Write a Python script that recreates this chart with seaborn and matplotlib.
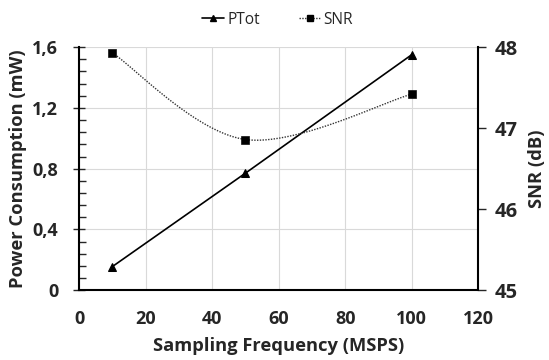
import numpy as np
import pandas as pd
import matplotlib
matplotlib.use("Agg")
import matplotlib.pyplot as plt
import seaborn as sns
from matplotlib.lines import Line2D
from matplotlib.ticker import FuncFormatter, MultipleLocator

# ==========================================================
# DATA
# ==========================================================
freq_msps = [10, 50, 100]
ptot_mw = [0.155, 0.77, 1.55]
snr_db = [47.93, 46.86, 47.42]

x_ticks = [0, 20, 40, 60, 80, 100, 120]
left_ticks = [0, 0.4, 0.8, 1.2, 1.6]
right_ticks = [45, 46, 47, 48]

# ==========================================================
# SMOOTH LINE (Excel-style bezier through the points)
# ==========================================================
def smooth(xs, ys, n=40):
    xs = np.asarray(xs, float)
    ys = np.asarray(ys, float)
    out_x, out_y = [], []
    for i in range(len(xs) - 1):
        p0 = np.array([xs[max(i - 1, 0)], ys[max(i - 1, 0)]])
        p1 = np.array([xs[i], ys[i]])
        p2 = np.array([xs[i + 1], ys[i + 1]])
        p3 = np.array([xs[min(i + 2, len(xs) - 1)], ys[min(i + 2, len(xs) - 1)]])
        c1 = p1 + (p2 - p0) / 6
        c2 = p2 - (p3 - p1) / 6
        t = np.linspace(0, 1, n)[:, None]
        pts = ((1 - t) ** 3) * p1 + 3 * ((1 - t) ** 2) * t * c1 + 3 * (1 - t) * t ** 2 * c2 + t ** 3 * p2
        out_x.extend(pts[:, 0])
        out_y.extend(pts[:, 1])
    return pd.DataFrame({"x": out_x, "y": out_y})

ptot_df = pd.DataFrame({"x": freq_msps, "y": ptot_mw})
snr_df = pd.DataFrame({"x": freq_msps, "y": snr_db})
snr_curve = smooth(freq_msps, snr_db)

# ==========================================================
# PLOT
# ==========================================================
sns.set_style("white")
plt.rcParams["font.family"] = ["Open Sans", "DejaVu Sans"]

fig = plt.figure(figsize=(5.49, 3.6), dpi=100)
ax = fig.add_axes([0.144, 0.194, 0.727, 0.675])
ax2 = ax.twinx()

sns.lineplot(data=ptot_df, x="x", y="y", ax=ax, color="black", lw=1.2,
             marker="^", markersize=6, markeredgecolor="black", zorder=3)

sns.lineplot(data=snr_curve, x="x", y="y", ax=ax2, color="#333333", lw=1.0,
             linestyle=(0, (1, 1)), sort=False, estimator=None)
sns.scatterplot(data=snr_df, x="x", y="y", ax=ax2, color="black", marker="s",
                s=30, edgecolor="black", zorder=4)

ax.set_xlim(0, 120)
ax.set_ylim(0, 1.6)
ax2.set_ylim(45, 48)
ax.set_xticks(x_ticks)
ax.set_yticks(left_ticks)
ax2.set_yticks(right_ticks)
ax.yaxis.set_minor_locator(MultipleLocator(0.08))
ax.yaxis.set_major_formatter(FuncFormatter(lambda v, p: ("%g" % round(v, 2)).replace(".", ",")))

ax.grid(True, color="#d9d9d9", lw=0.8)
ax.set_axisbelow(True)

for a in (ax, ax2):
    for s in a.spines.values():
        s.set_visible(False)
ax.spines["left"].set_visible(True)
ax.spines["bottom"].set_visible(True)
ax2.spines["right"].set_visible(True)
for s in (ax.spines["left"], ax.spines["bottom"], ax2.spines["right"]):
    s.set_linewidth(1.5)
    s.set_color("black")

ax.tick_params(axis="x", direction="inout", length=8, width=1, labelsize=13, pad=10)
ax.tick_params(axis="y", which="major", direction="inout", length=8, width=1, labelsize=13, pad=11)
ax.tick_params(axis="y", which="minor", direction="in", length=5, width=1, left=True)
ax2.tick_params(axis="y", direction="out", length=6, width=1, labelsize=14.5, pad=6)

for lab in ax.get_xticklabels() + ax.get_yticklabels() + ax2.get_yticklabels():
    lab.set_fontweight("bold")

ax.set_xlabel("Sampling Frequency (MSPS)", fontsize=13.2, fontweight="bold", labelpad=7)
ax.set_ylabel("Power Consumption (mW)", fontsize=13.2, fontweight="bold", labelpad=4)
ax2.set_ylabel("SNR (dB)", fontsize=13.2, fontweight="bold", labelpad=7)

handles = [
    Line2D([], [], color="black", lw=1.2, marker="^", markersize=5),
    Line2D([], [], color="#333333", lw=1.0, linestyle=(0, (1, 1)), marker="s", markersize=5,
           markerfacecolor="black", markeredgecolor="black"),
]
fig.legend(handles, ["PTot", "SNR"], loc="upper center", bbox_to_anchor=(0.506, 1.006),
           ncol=2, frameon=False, fontsize=11.2, handlelength=1.4, handletextpad=0.2,
           columnspacing=2.5)

fig.savefig("out.png", dpi=100)
